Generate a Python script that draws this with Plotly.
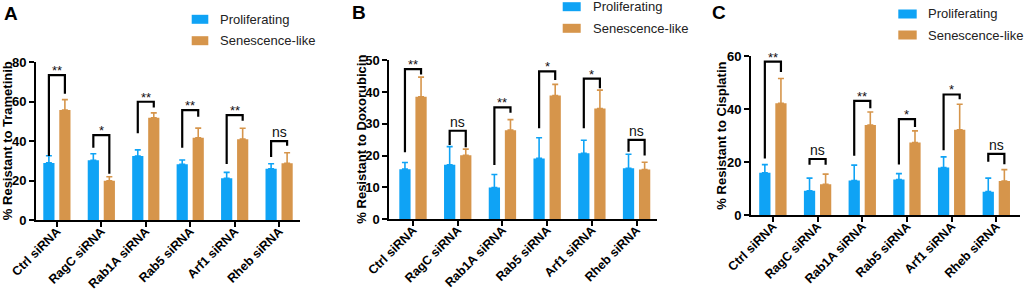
import plotly.graph_objects as go

W, H = 1024, 290
FONT = "Arial, Liberation Sans, sans-serif"
BLUE = "#0fa3f5"
ORANGE = "#d6954b"

categories = ["Ctrl siRNA", "RagC siRNA", "Rab1A siRNA", "Rab5 siRNA", "Arf1 siRNA", "Rheb siRNA"]

# Panel A: Trametinib
a_prolif = [29.0, 30.3, 32.5, 28.3, 21.2, 26.0]
a_prolif_err = [3.6, 3.3, 3.1, 2.2, 3.0, 2.6]
a_sen = [55.7, 20.0, 51.8, 41.7, 41.0, 28.8]
a_sen_err = [5.3, 2.0, 2.5, 4.9, 5.5, 5.3]
a_sig = ["**", "*", "**", "**", "**", "ns"]
a_br_top = [73.4, 43.0, 59.9, 55.7, 53.2, 40.0]
a_br_left = [32.5, 36.7, 44.0, 36.7, 28.4, 32.0]
a_br_right = [64.0, 23.5, 57.0, 52.3, 50.3, 37.7]

# Panel B: Doxorubicin
b_prolif = [15.7, 17.1, 9.9, 19.1, 20.7, 16.0]
b_prolif_err = [2.1, 5.7, 4.1, 6.5, 4.1, 4.4]
b_sen = [38.5, 20.1, 28.0, 38.9, 34.8, 15.6]
b_sen_err = [6.2, 1.9, 3.3, 3.5, 5.8, 2.3]
b_sig = ["**", "ns", "**", "*", "*", "ns"]
b_br_top = [47.2, 27.8, 35.2, 46.5, 44.2, 24.9]
b_br_left = [21.0, 23.3, 17.0, 28.6, 28.6, 21.2]
b_br_right = [45.5, 22.6, 33.5, 43.8, 41.2, 20.0]

# Panel C: Cisplatin
c_prolif = [16.0, 9.2, 13.1, 13.5, 18.0, 8.9]
c_prolif_err = [3.1, 4.8, 5.8, 2.2, 4.0, 5.1]
c_sen = [42.2, 11.7, 34.0, 27.4, 32.2, 12.9]
c_sen_err = [9.3, 3.8, 4.9, 4.4, 9.6, 4.3]
c_sig = ["**", "ns", "**", "*", "*", "ns"]
c_br_top = [57.9, 21.2, 43.1, 36.2, 45.5, 23.1]
c_br_left = [21.4, 19.0, 22.4, 19.1, 24.5, 20.2]
c_br_right = [54.0, 19.0, 40.3, 33.3, 43.7, 19.2]

y_titles = ["% Resistant to Trametinib", "% Resistant to Doxorubicin", "% Resistant to Cisplatin"]
y_ranges = [[0, 80], [0, 50], [0, 60]]
y_dticks = [20, 10, 20]
panel_letters = ["A", "B", "C"]
series_names = ["Proliferating", "Senescence-like"]

BARGAP = 0.28
BARGROUPGAP = 0.3
OFF = (1 - BARGAP) / 4

def px_x(p):
    return p / W

def px_y(p):
    return 1 - p / H

# layout geometry (pixels)
x_dom_px = [(36, 300), (389.3, 656.7), (751, 1020)]
y_dom_px = [(220.3, 62), (219, 60.3), (215.3, 56)]
x_ranges = [[-0.47, 5.47], [-0.53, 5.45], [-0.49, 5.53]]
letter_pos = [(11, 14), (359, 13), (719, 13)]
ytitle_x = [7, 362, 722]
legend_swatch = [(191.7, 208.3, 19.3, 40.7), (562.7, 580.7, 6.7, 28.3), (898.3, 916.7, 14, 35)]
legend_text_x = [218.3, 590.7, 926]

panels = [
    (a_prolif, a_prolif_err, a_sen, a_sen_err, a_sig, a_br_top, a_br_left, a_br_right),
    (b_prolif, b_prolif_err, b_sen, b_sen_err, b_sig, b_br_top, b_br_left, b_br_right),
    (c_prolif, c_prolif_err, c_sen, c_sen_err, c_sig, c_br_top, c_br_left, c_br_right),
]

fig = go.Figure()
shapes = []
annotations = []
xs = list(range(len(categories)))

for k, (pv, pe, sv, se, sig, btop, bl, br) in enumerate(panels):
    xa = "x" if k == 0 else f"x{k+1}"
    ya = "y" if k == 0 else f"y{k+1}"
    for vals, errs, color, name in [(pv, pe, BLUE, series_names[0]), (sv, se, ORANGE, series_names[1])]:
        fig.add_trace(go.Bar(
            x=xs, y=vals, name=name, marker=dict(color=color, line=dict(width=0)),
            error_y=dict(type="data", symmetric=False, array=errs, arrayminus=[0] * len(errs),
                         color=color, thickness=1.6, width=3),
            xaxis=xa, yaxis=ya, showlegend=False, hoverinfo="skip",
        ))
    # significance brackets
    for i in xs:
        xl, xr = i - OFF, i + OFF
        path = f"M {xl} {bl[i]} L {xl} {btop[i]} L {xr} {btop[i]} L {xr} {br[i]}"
        shapes.append(dict(type="path", path=path, xref=xa, yref=ya,
                           line=dict(color="black", width=2.2)))
        is_star = sig[i] != "ns"
        annotations.append(dict(
            x=i, y=btop[i], xref=xa, yref=ya, text=sig[i], showarrow=False,
            yanchor="bottom", yshift=(-5 if is_star else -1),
            font=dict(family=FONT, size=13 if is_star else 14, color="#111"),
        ))
    # axes
    xd = [px_x(x_dom_px[k][0]), px_x(x_dom_px[k][1])]
    yd = [px_y(y_dom_px[k][0]), px_y(y_dom_px[k][1])]
    xkey = "xaxis" if k == 0 else f"xaxis{k+1}"
    ykey = "yaxis" if k == 0 else f"yaxis{k+1}"
    fig.update_layout(**{
        xkey: dict(domain=xd, anchor=ya, range=x_ranges[k], tickmode="array", tickvals=xs,
                   ticktext=categories, tickangle=-45, showline=True, linecolor="black",
                   linewidth=2, ticks="outside", ticklen=5, tickwidth=2, tickcolor="black",
                   showgrid=False, zeroline=False, automargin=False, ticklabelstandoff=-8,
                   tickfont=dict(family=FONT, size=12.5, color="black", weight="bold")),
        ykey: dict(domain=yd, anchor=xa, range=y_ranges[k], dtick=y_dticks[k], showline=True,
                   linecolor="black", linewidth=2, ticks="outside", ticklen=5, tickwidth=2,
                   tickcolor="black", showgrid=False, zeroline=False, automargin=False,
                   tickfont=dict(family=FONT, size=13, color="black", weight="bold")),
    })
    # y title
    annotations.append(dict(
        x=px_x(ytitle_x[k]), y=(yd[0] + yd[1]) / 2, xref="paper", yref="paper",
        text=y_titles[k], textangle=-90, showarrow=False, xanchor="center", yanchor="middle",
        font=dict(family=FONT, size=13, color="black", weight="bold"),
    ))
    # panel letter
    annotations.append(dict(
        x=px_x(letter_pos[k][0]), y=px_y(letter_pos[k][1]), xref="paper", yref="paper",
        text=panel_letters[k], showarrow=False, xanchor="center", yanchor="middle",
        font=dict(family=FONT, size=19, color="black", weight="bold"),
    ))
    # manual legend
    x0, x1, yc1, yc2 = legend_swatch[k]
    for yc, color, name in [(yc1, BLUE, series_names[0]), (yc2, ORANGE, series_names[1])]:
        shapes.append(dict(type="rect", xref="paper", yref="paper",
                           x0=px_x(x0), x1=px_x(x1), y0=px_y(yc - 4.5), y1=px_y(yc + 4.5),
                           fillcolor=color, line=dict(width=0)))
        annotations.append(dict(
            x=px_x(legend_text_x[k]), y=px_y(yc), xref="paper", yref="paper", text=name,
            showarrow=False, xanchor="left", yanchor="middle",
            font=dict(family=FONT, size=13, color="#222"),
        ))

fig.update_layout(
    width=W, height=H, margin=dict(l=0, r=0, t=0, b=0, autoexpand=False),
    paper_bgcolor="white", plot_bgcolor="white",
    barmode="group", bargap=BARGAP, bargroupgap=BARGROUPGAP,
    shapes=shapes, annotations=annotations, showlegend=False,
)

fig.write_html("out.html", config={"displayModeBar": False},
               post_script="document.body.style.margin='0';document.body.style.overflow='hidden';")
